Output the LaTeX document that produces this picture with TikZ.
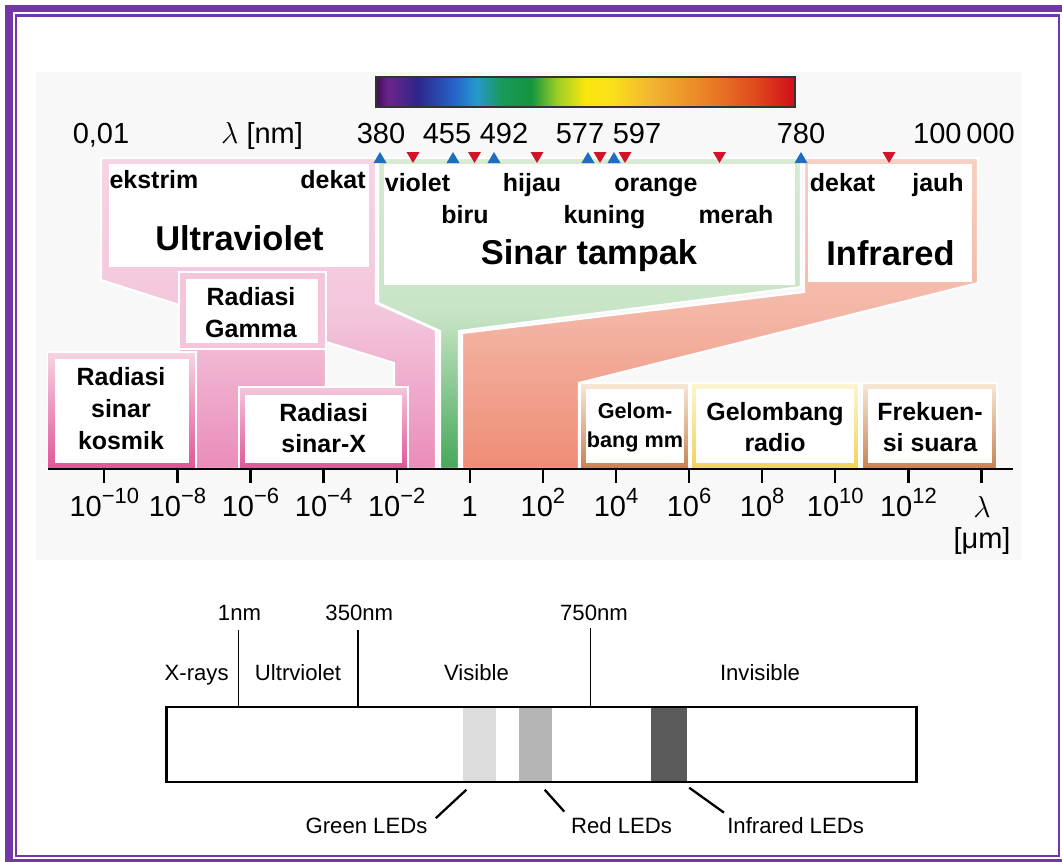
\documentclass[tikz,border=0pt]{standalone}
\usepackage{fontspec}
\setmainfont{Liberation Sans}
\usepackage{xcolor}
\usepackage{tikz}
\usetikzlibrary{calc}

\definecolor{framepurple}{RGB}{115,55,165}
\definecolor{panelgray}{RGB}{248,248,248}
\definecolor{uvtop}{RGB}{246,212,228}
\definecolor{uvmid}{RGB}{243,198,220}
\definecolor{uvbot}{RGB}{234,140,185}
\definecolor{boxmag}{RGB}{224,85,150}
\definecolor{vistop}{RGB}{214,235,210}
\definecolor{vismid}{RGB}{200,228,198}
\definecolor{visbot}{RGB}{70,168,90}
\definecolor{irtop}{RGB}{248,208,195}
\definecolor{irmid}{RGB}{244,182,165}
\definecolor{irbot}{RGB}{238,140,118}
\definecolor{mmtop}{RGB}{248,232,215}
\definecolor{mmbot}{RGB}{200,130,80}
\definecolor{radtop}{RGB}{252,246,210}
\definecolor{radbot}{RGB}{242,210,90}
\definecolor{triblue}{RGB}{30,110,190}
\definecolor{trired}{RGB}{210,20,40}
\definecolor{ledlight}{RGB}{220,220,220}
\definecolor{ledmid}{RGB}{180,180,180}
\definecolor{leddark}{RGB}{90,90,90}

\pgfdeclarehorizontalshading{spectrum}{100bp}{
  rgb(0bp)=(0.25,0.05,0.35); rgb(25bp)=(0.25,0.05,0.35);
  rgb(26.5bp)=(0.42,0.15,0.55); rgb(30bp)=(0.18,0.15,0.55);
  rgb(34.5bp)=(0.15,0.4,0.8); rgb(37bp)=(0.15,0.6,0.8);
  rgb(40bp)=(0.1,0.6,0.35); rgb(43.5bp)=(0.08,0.58,0.25);
  rgb(46.5bp)=(0.6,0.8,0.15); rgb(50bp)=(0.98,0.9,0.05);
  rgb(53bp)=(0.98,0.88,0.1); rgb(57.5bp)=(0.95,0.72,0.2);
  rgb(64bp)=(0.92,0.52,0.15); rgb(70bp)=(0.88,0.3,0.12);
  rgb(75bp)=(0.82,0.05,0.1); rgb(100bp)=(0.82,0.05,0.1)}

\newcommand{\expo}[1]{\raisebox{7pt}{\fontsize{12.5}{13}\selectfont #1}}

\begin{document}
\begin{tikzpicture}[x=0.02cm, y=-0.02cm,
    lbl/.style={font=\bfseries\fontsize{14.2}{18}\selectfont, inner sep=0pt, anchor=base},
    boxlbl/.style={font=\bfseries\fontsize{14.2}{18}\selectfont, inner sep=0pt, align=center},
    smallbox/.style={font=\bfseries\fontsize{12.3}{16.5}\selectfont, inner sep=0pt, align=center},
    biglbl/.style={font=\bfseries\fontsize{19.6}{22}\selectfont, inner sep=0pt, anchor=base},
    numlbl/.style={font=\fontsize{16.5}{18}\selectfont, inner sep=0pt, anchor=base},
    ledlbl/.style={font=\fontsize{12.6}{14}\selectfont, inner sep=0pt, anchor=base},
    funnel/.style={draw=white, line width=1.2pt},
    outerbox/.style={draw=white, line width=0.8pt},
    ledbar/.style={rectangle, inner sep=0pt, minimum height=1.48cm, anchor=north west},
    leader/.style={line width=1.3pt},
    axtick/.style={line width=1.3pt}
]
\useasboundingbox (0,0) rectangle (1062,862);
\clip (0,0) rectangle (1062,862);
\fill[white] (0,0) rectangle (1062,862);

% frame
\draw[framepurple, line width=4pt] (9,8.5) rectangle (1066,862.5);
\draw[framepurple, line width=1.5pt] (16,15.5) rectangle (1059,856);
\fill[panelgray] (36,72) rectangle (1021,560);

% regions
\path[funnel, top color=uvtop, bottom color=uvbot, middle color=uvmid]
  (101,158) -- (376,158) -- (376,303) -- (436,330) -- (436,469) -- (394,469)
  -- (394,363) -- (326,342) -- (326,469) -- (179,469) -- (179,305) -- (101,280) -- cycle;
\path[funnel, top color=vistop, bottom color=visbot, middle color=vismid]
  (378,158) -- (801,158) -- (801,287) -- (459,331) -- (459,469) -- (440,469)
  -- (440,331) -- (378,303) -- cycle;
\path[funnel, top color=irtop, bottom color=irbot, middle color=irmid]
  (804,158) -- (978,158) -- (978,283) -- (579,383) -- (579,469) -- (462,469)
  -- (462,333) -- (804,292) -- cycle;
\fill[white] (108.5,164) rectangle (369,267);
\fill[white] (384,164) rectangle (795,285);
\fill[white] (808,164) rectangle (972,282);

% small boxes
\path[outerbox, top color=uvtop, bottom color=boxmag] (47.5,352) rectangle (196,469);
\fill[white] (54.5,359) rectangle (189,463);
\path[outerbox, fill=uvmid] (179,272) rectangle (326,349);
\fill[white] (186,279) rectangle (318,343);
\path[outerbox, top color=uvmid, bottom color=boxmag] (239,387) rectangle (408,469);
\fill[white] (245,395) rectangle (402,463);
\path[outerbox, top color=mmtop, bottom color=mmbot] (580.5,383) rectangle (689,469);
\fill[white] (586,389) rectangle (684,463);
\path[outerbox, top color=radtop, bottom color=radbot] (691,383) rectangle (859,469);
\fill[white] (696,389) rectangle (853.5,463);
\path[outerbox, top color=mmtop, bottom color=mmbot] (862,383) rectangle (997,469);
\fill[white] (867.5,389) rectangle (992,463);

% labels in regions
\node[lbl] (ekstrim) at (154,188.5) {ekstrim};
\node[lbl] (uvdekat) at (333,188.5) {dekat};
\node[biglbl] (uv) at (239.5,250) {Ultraviolet};
\node[lbl] (violet) at (417.5,191) {violet};
\node[lbl] (hijau) at (532,191) {hijau};
\node[lbl] (orange) at (656,191) {orange};
\node[lbl] (biru) at (465,223) {biru};
\node[lbl] (kuning) at (604.5,223) {kuning};
\node[lbl] (merah) at (736,223) {merah};
\node[biglbl] (tampak) at (589,264) {Sinar tampak};
\node[lbl] (irdekat) at (842.5,191) {dekat};
\node[lbl] (jauh) at (938,191) {jauh};
\node[biglbl] (ir) at (890.5,265) {Infrared};
\node[boxlbl] (kosmik) at (121,408.5) {Radiasi\\sinar\\kosmik};
\node[boxlbl] (gamma) at (251,312.5) {Radiasi\\Gamma};
\node[boxlbl] (xray) at (323.7,428) {Radiasi\\sinar-X};
\node[smallbox] (mm) at (635,427) {Gelom-\\bang mm};
\node[boxlbl] (radio) at (775,427) {Gelombang\\radio};
\node[boxlbl] (suara) at (930,427) {Frekuen-\\si suara};

% wavelength axis
\draw[line width=1.5pt] (48,469) -- (1013,469);
\foreach \k in {0,...,12}
  \draw[axtick] (104.3+73.1*\k,469) -- ++(0,14);
\foreach \k/\ex in {0/−10,1/−8,2/−6,3/−4,4/−2,6/2,7/4,8/6,9/8,10/10,11/12}
  \node[numlbl] (ax\k) at (104.3+73.1*\k,516) {10\expo{\ex}};
\node[numlbl] (ax5) at (469.8,516) {1};
\node[numlbl] (axlam) at (982,517) {$\lambda$};
\node[numlbl] (axunit) at (982,548) {[μm]};

% spectrum bar and nm scale
\shadedraw[shading=spectrum, draw=black!80, line width=1pt] (376,77) rectangle (795,107);
\node[numlbl] (n001) at (101,143.5) {0,01};
\node[numlbl] (nlam) at (262,143.5) {$\lambda$ [nm]};
\foreach \wl/\px in {380/381,455/447,492/504,577/580,597/637,780/801}
  \node[numlbl] (n\wl) at (\px,143.5) {\wl};
\node[numlbl] (n100000) at (964,143.5) {100\,000};
\foreach \tx in {380,453,494,588,614,801}
  \fill[triblue] (\tx-6.5,163) -- (\tx+6.5,163) -- (\tx,152) -- cycle;
\foreach \tx in {413,474.5,537,600,625,719.5,889}
  \fill[trired] (\tx-6.5,152) -- (\tx+6.5,152) -- (\tx,163) -- cycle;

% LED chart
\node[ledbar, fill=ledlight, minimum width=0.672cm] (gled) at (462.4,707) {};
\node[ledbar, fill=ledmid, minimum width=0.668cm] (rled) at (518.6,707) {};
\node[ledbar, fill=leddark, minimum width=0.72cm] (irled) at (651,707) {};
\draw[line width=1.3pt] (166.5,706.7) rectangle (916.5,781.7);
\draw[line width=0.9pt] (238.5,630) -- (238.5,706.7);
\draw[line width=0.9pt] (358,630) -- (358,706.7);
\draw[line width=0.9pt] (590.5,628) -- (590.5,706.7);
\node[ledlbl] (l1nm) at (239.5,620) {1nm};
\node[ledlbl] (l350) at (359.3,620) {350nm};
\node[ledlbl] (l750) at (594,620) {750nm};
\node[ledlbl] (xrays) at (196.6,680) {X-rays};
\node[ledlbl] (ultr) at (298,680) {Ultrviolet};
\node[ledlbl] (visible) at (476.5,680) {Visible};
\node[ledlbl] (invisible) at (760,680) {Invisible};
\node[ledlbl] (glbl) at (366.5,833) {Green LEDs};
\node[ledlbl] (rlbl) at (621.6,833) {Red LEDs};
\node[ledlbl] (irlbl) at (795.6,833) {Infrared LEDs};
\draw[leader] ($(gled.south west)+(4,8)$) -- ($(glbl.north east)+(8,1)$);
\draw[leader] ($(rled.south)+(9,8)$) -- ($(rlbl.north west)+(-6.5,-5)$);
\draw[leader] ($(irled.south east)+(1.5,6)$) -- ($(irlbl.north west)+(-3,-4)$);
\end{tikzpicture}
\end{document}
